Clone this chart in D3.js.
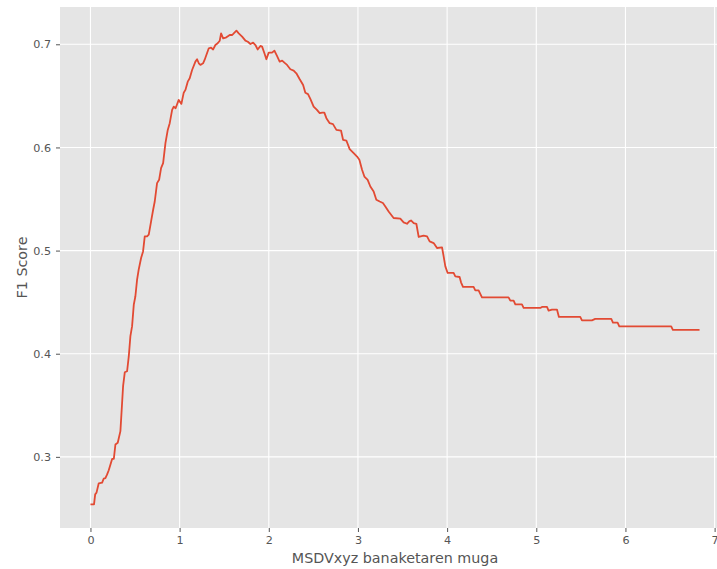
<!DOCTYPE html>
<html><head><meta charset="utf-8">
<script src="https://cdn.jsdelivr.net/npm/d3@7"></script>
<style>html,body{margin:0;padding:0;background:#fff;}svg{display:block;}</style>
</head><body>
<script>
const xValues = [0, 0.04, 0.053, 0.068, 0.093, 0.131, 0.149, 0.168, 0.187, 0.205, 0.243, 0.262, 0.28, 0.306, 0.336, 0.355, 0.366, 0.385, 0.411, 0.43, 0.448, 0.467, 0.486, 0.504, 0.523, 0.541, 0.568, 0.59, 0.609, 0.635, 0.654, 0.68, 0.703, 0.721, 0.747, 0.77, 0.792, 0.815, 0.841, 0.867, 0.889, 0.916, 0.934, 0.955, 0.99, 1.02, 1.046, 1.065, 1.091, 1.113, 1.14, 1.177, 1.196, 1.215, 1.233, 1.263, 1.28, 1.3, 1.327, 1.353, 1.376, 1.401, 1.427, 1.45, 1.465, 1.488, 1.525, 1.562, 1.59, 1.607, 1.637, 1.663, 1.701, 1.738, 1.765, 1.794, 1.824, 1.85, 1.875, 1.906, 1.925, 1.951, 1.973, 1.999, 2.036, 2.063, 2.092, 2.122, 2.15, 2.175, 2.205, 2.242, 2.279, 2.309, 2.347, 2.385, 2.41, 2.44, 2.466, 2.503, 2.54, 2.571, 2.6, 2.623, 2.646, 2.683, 2.72, 2.758, 2.81, 2.833, 2.87, 2.907, 2.952, 2.99, 3.016, 3.046, 3.072, 3.109, 3.139, 3.176, 3.206, 3.244, 3.28, 3.307, 3.344, 3.4, 3.475, 3.512, 3.55, 3.575, 3.595, 3.625, 3.655, 3.681, 3.737, 3.775, 3.804, 3.849, 3.887, 3.943, 3.961, 3.98, 4.006, 4.073, 4.092, 4.14, 4.156, 4.178, 4.297, 4.316, 4.353, 4.391, 4.689, 4.709, 4.746, 4.765, 4.839, 4.858, 5.045, 5.064, 5.12, 5.138, 5.176, 5.232, 5.254, 5.493, 5.512, 5.624, 5.661, 5.841, 5.86, 5.912, 5.931, 6.513, 6.532, 6.831];
const f1Values = [0.254, 0.254, 0.2637, 0.2653, 0.2744, 0.275, 0.279, 0.2795, 0.283, 0.287, 0.298, 0.298, 0.312, 0.3137, 0.325, 0.3525, 0.3685, 0.382, 0.383, 0.3976, 0.417, 0.4267, 0.4476, 0.4557, 0.4718, 0.4815, 0.4928, 0.4992, 0.5137, 0.5137, 0.5154, 0.5283, 0.5396, 0.5476, 0.5654, 0.5686, 0.58, 0.5848, 0.6042, 0.617, 0.6235, 0.6364, 0.6396, 0.638, 0.6461, 0.6422, 0.6531, 0.6558, 0.6638, 0.667, 0.6751, 0.6832, 0.6855, 0.6816, 0.68, 0.6816, 0.6848, 0.6896, 0.6961, 0.6967, 0.695, 0.6993, 0.701, 0.7035, 0.7106, 0.7058, 0.7068, 0.709, 0.709, 0.7106, 0.7132, 0.7106, 0.7074, 0.7035, 0.7025, 0.7003, 0.7016, 0.6993, 0.695, 0.6984, 0.6977, 0.6913, 0.6855, 0.6919, 0.6919, 0.6938, 0.6887, 0.6832, 0.6842, 0.6822, 0.68, 0.6758, 0.6745, 0.6719, 0.6661, 0.6606, 0.6531, 0.6517, 0.647, 0.6396, 0.6364, 0.6332, 0.6338, 0.6338, 0.6284, 0.6235, 0.6226, 0.617, 0.6164, 0.6074, 0.6067, 0.5984, 0.5945, 0.5912, 0.588, 0.5783, 0.5718, 0.5686, 0.5621, 0.5573, 0.5493, 0.5476, 0.5461, 0.5428, 0.5379, 0.5316, 0.5309, 0.5273, 0.526, 0.5283, 0.5292, 0.5267, 0.526, 0.5132, 0.5144, 0.5137, 0.5089, 0.5073, 0.5025, 0.5031, 0.4944, 0.4847, 0.4783, 0.4783, 0.475, 0.4744, 0.4692, 0.4648, 0.4648, 0.4615, 0.4615, 0.4547, 0.4547, 0.4515, 0.4515, 0.4479, 0.4479, 0.4444, 0.4444, 0.4454, 0.4454, 0.4418, 0.4428, 0.4428, 0.4357, 0.4357, 0.4324, 0.4324, 0.4338, 0.4338, 0.4302, 0.4302, 0.4266, 0.4266, 0.4231, 0.4231];
const xTicks = [0, 1, 2, 3, 4, 5, 6, 7];
const yTicks = [0.3, 0.4, 0.5, 0.6, 0.7];
const xLabel = "MSDVxyz banaketaren muga";
const yLabel = "F1 Score";

const W = 717, H = 569;
const plot = {left: 60, top: 7, right: 730, bottom: 528};
const font = "DejaVu Sans, sans-serif";

const xExt = d3.extent(xValues), yExt = d3.extent(f1Values);
const xm = (xExt[1] - xExt[0]) * 0.05, ym = (yExt[1] - yExt[0]) * 0.05;
const x = d3.scaleLinear().domain([xExt[0] - xm, xExt[1] + xm]).range([plot.left, plot.right]);
const y = d3.scaleLinear().domain([yExt[0] - ym, yExt[1] + ym]).range([plot.bottom, plot.top]);

const svg = d3.select("body").append("svg").attr("width", W).attr("height", H);

svg.append("rect").attr("x", plot.left).attr("y", plot.top)
  .attr("width", plot.right - plot.left).attr("height", plot.bottom - plot.top)
  .attr("fill", "#E5E5E5");

// grid
svg.append("g").selectAll("line").data(xTicks).join("line")
  .attr("x1", d => x(d)).attr("x2", d => x(d)).attr("y1", plot.top).attr("y2", plot.bottom)
  .attr("stroke", "#fff").attr("stroke-width", 1.1);
svg.append("g").selectAll("line").data(yTicks).join("line")
  .attr("y1", d => y(d)).attr("y2", d => y(d)).attr("x1", plot.left).attr("x2", plot.right)
  .attr("stroke", "#fff").attr("stroke-width", 1.1);

// axes
const xAxis = d3.axisBottom(x).tickValues(xTicks).tickFormat(d3.format("d")).tickSize(4).tickPadding(4);
const yAxis = d3.axisLeft(y).tickValues(yTicks).tickFormat(d3.format(".1f")).tickSize(4).tickPadding(5);
const gx = svg.append("g").attr("transform", `translate(0,${plot.bottom})`).call(xAxis);
const gy = svg.append("g").attr("transform", `translate(${plot.left},0)`).call(yAxis);
[gx, gy].forEach(g => {
  g.select(".domain").remove();
  g.selectAll(".tick line").attr("stroke", "#555").attr("stroke-width", 1);
  g.selectAll(".tick text").attr("fill", "#555").style("font-family", font).style("font-size", "11.2px");
});

// line
const line = d3.line().x((d, i) => x(xValues[i])).y(d => y(d));
svg.append("path").datum(f1Values).attr("d", line)
  .attr("fill", "none").attr("stroke", "#E24A33").attr("stroke-width", 1.8)
  .attr("stroke-linejoin", "round");

// labels
svg.append("text").attr("x", (plot.left + plot.right) / 2).attr("y", 563)
  .attr("text-anchor", "middle").attr("fill", "#555")
  .style("font-family", font).style("font-size", "14.3px").text(xLabel);
svg.append("text").attr("transform", `translate(27,${(plot.top + plot.bottom) / 2}) rotate(-90)`)
  .attr("text-anchor", "middle").attr("fill", "#555")
  .style("font-family", font).style("font-size", "14.3px").text(yLabel);
</script>
</body></html>
